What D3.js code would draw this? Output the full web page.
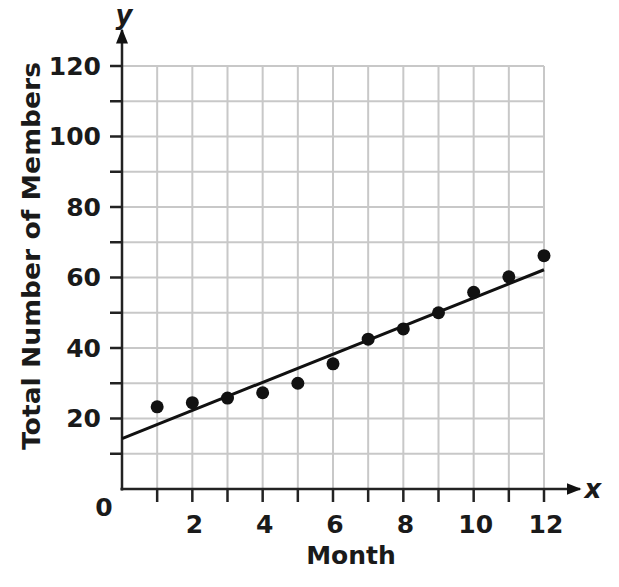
<!DOCTYPE html>
<html><head><meta charset="utf-8">
<script src="https://cdn.jsdelivr.net/npm/d3@7"></script>
<style>body{margin:0;background:#fff}</style>
</head><body>
<svg id="c" width="619" height="587"></svg>
<script>
const months = [1,2,3,4,5,6,7,8,9,10,11,12];
const members = [23.3,24.5,25.8,27.3,30,35.5,42.5,45.4,50,55.8,60.2,66.2];
const xTickLabels = [2,4,6,8,10,12];
const yTickLabels = [20,40,60,80,100,120];
const trendLine = [[0,14.3],[12,62.2]];

const svg = d3.select("#c");
const x = d3.scaleLinear().domain([0,12]).range([122,544]);
const y = d3.scaleLinear().domain([0,120]).range([489,66]);
const font = "'DejaVu Sans', Verdana, sans-serif";

// grid
const gx = d3.range(1,13), gy = d3.range(10,121,10);
svg.append("g").selectAll("line").data(gx).join("line")
  .attr("x1",d=>x(d)).attr("x2",d=>x(d)).attr("y1",y(0)).attr("y2",y(120))
  .attr("stroke","#c8c8c8").attr("stroke-width",2);
svg.append("g").selectAll("line").data(gy).join("line")
  .attr("x1",x(0)).attr("x2",x(12)).attr("y1",d=>y(d)).attr("y2",d=>y(d))
  .attr("stroke","#c8c8c8").attr("stroke-width",2);

// ticks
svg.append("g").selectAll("line").data(gy).join("line")
  .attr("x1",x(0)-12).attr("x2",x(0)).attr("y1",d=>y(d)).attr("y2",d=>y(d))
  .attr("stroke","#222").attr("stroke-width",2.5);
svg.append("g").selectAll("line").data(gx).join("line")
  .attr("x1",d=>x(d)).attr("x2",d=>x(d)).attr("y1",y(0)).attr("y2",y(0)+13)
  .attr("stroke","#222").attr("stroke-width",2.5);

// axes with arrows
const defs = svg.append("defs");
defs.append("marker").attr("id","arr").attr("viewBox","0 0 10 10").attr("refX",9).attr("refY",5)
  .attr("markerWidth",6).attr("markerHeight",6).attr("markerUnits","strokeWidth").attr("orient","auto")
  .append("path").attr("d","M0,1 L10,5 L0,9 Z").attr("fill","#111");
svg.append("line").attr("x1",x(0)).attr("x2",x(0)).attr("y1",y(0)+1.5).attr("y2",30)
  .attr("stroke","#222").attr("stroke-width",2.5).attr("marker-end","url(#arr)");
svg.append("line").attr("x1",x(0)-1.5).attr("x2",580).attr("y1",y(0)).attr("y2",y(0))
  .attr("stroke","#222").attr("stroke-width",2.5).attr("marker-end","url(#arr)");

// trend line
svg.append("line").attr("x1",x(trendLine[0][0])).attr("y1",y(trendLine[0][1]))
  .attr("x2",x(trendLine[1][0])).attr("y2",y(trendLine[1][1]))
  .attr("stroke","#111").attr("stroke-width",3);

// points
svg.append("g").selectAll("circle").data(months).join("circle")
  .attr("cx",d=>x(d)).attr("cy",(d,i)=>y(members[i])).attr("r",6.5).attr("fill","#111");

// labels
const txt = (t,px,py,opts={}) => svg.append("text").text(t).attr("x",px).attr("y",py)
  .attr("font-family",font).attr("font-weight","bold").attr("font-size",opts.size||25)
  .attr("fill","#1a1a1a").attr("text-anchor",opts.anchor||"middle").attr("dominant-baseline","central")
  .attr("font-style",opts.style||"normal");

yTickLabels.forEach(v=>txt(v,101,y(v),{anchor:"end"}));
xTickLabels.forEach(v=>txt(v,x(v)+2,524));
txt("0",104,507);
txt("Month",351,555);
txt("x",593,489,{style:"italic",size:26});
txt("y",124,15,{style:"italic",size:26});
svg.append("text").text("Total Number of Members")
  .attr("transform","translate(31,256) rotate(-90)")
  .attr("font-family",font).attr("font-weight","bold").attr("font-size",25)
  .attr("textLength",388).attr("lengthAdjust","spacingAndGlyphs")
  .attr("fill","#1a1a1a").attr("text-anchor","middle").attr("dominant-baseline","central");
</script>
</body></html>
